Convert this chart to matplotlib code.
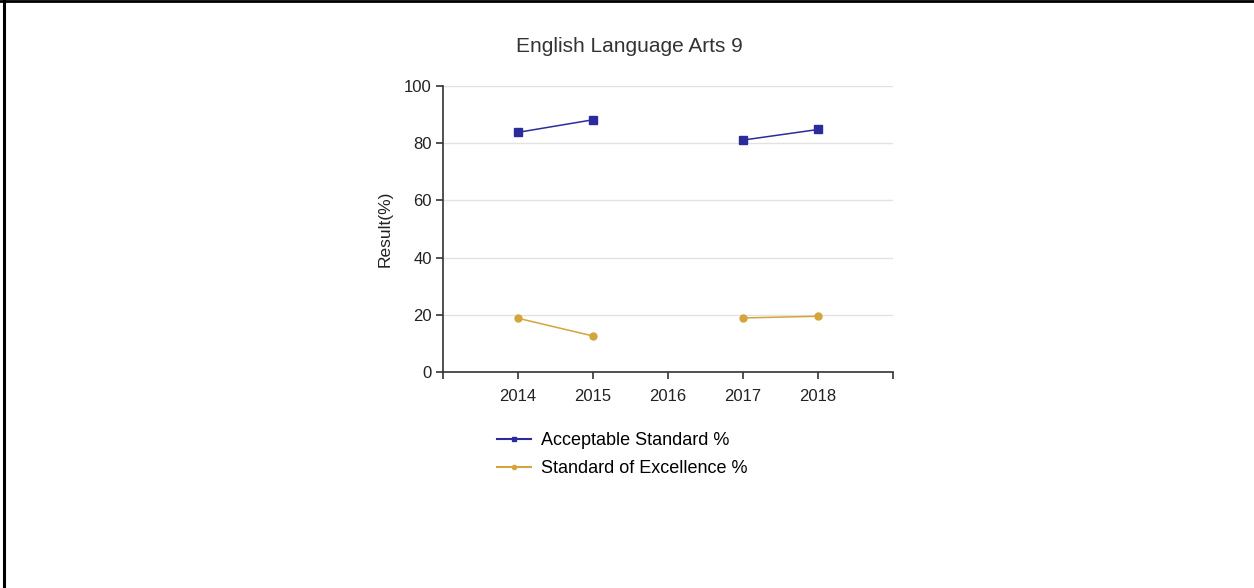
import numpy as np
import matplotlib.pyplot as plt
from matplotlib.lines import Line2D

plt.rcParams['font.family'] = ['Liberation Sans', 'DejaVu Sans']

# Results by year (2016 has no data)
years = [2014, 2015, 2016, 2017, 2018]
acceptable = [83.8, 88.2, np.nan, 81.1, 84.8]
excellence = [18.8, 12.6, np.nan, 18.9, 19.5]
y_ticks = [0, 20, 40, 60, 80, 100]

blue = '#2b2b9c'
gold = '#d3a53a'

fig = plt.figure(figsize=(12.54, 5.88), dpi=100)
ax = fig.add_axes([0.3533, 0.3673, 0.3588, 0.4864])

ax.plot(years, acceptable, color=blue, linewidth=1.1, marker='s', markersize=6,
        label='Acceptable Standard %')
ax.plot(years, excellence, color=gold, linewidth=1.1, marker='o', markersize=5,
        label='Standard of Excellence %')

ax.set_xlim(2013, 2019)
ax.set_ylim(0, 100)
ax.set_xticks([2013] + years + [2019])
ax.set_xticklabels([''] + [str(y) for y in years] + [''])
ax.set_yticks(y_ticks)
ax.yaxis.grid(True, color='#e2e2e2', linewidth=1)
ax.set_axisbelow(True)

for side in ['top', 'right']:
    ax.spines[side].set_visible(False)
for side in ['left', 'bottom']:
    ax.spines[side].set_color('#333333')
    ax.spines[side].set_linewidth(1.2)
ax.tick_params(axis='both', colors='#333333', labelcolor='#222222', labelsize=12,
               length=5, width=1.2, direction='out')
ax.tick_params(axis='x', pad=7)
ax.tick_params(axis='y', pad=3)

ax.set_ylabel('Result(%)', fontsize=12.5, color='#222222', labelpad=8)
fig.text(0.502, 0.921, 'English Language Arts 9', ha='center', va='center',
         fontsize=15, color='#333333')

handles = [Line2D([], [], color=blue, linewidth=1.5, marker='s', markersize=3),
           Line2D([], [], color=gold, linewidth=1.5, marker='o', markersize=3)]
fig.legend(handles, ['Acceptable Standard %', 'Standard of Excellence %'],
           loc='upper left', bbox_to_anchor=(0.3963, 0.265), frameon=False,
           fontsize=13, handlelength=1.9, handletextpad=0.55, labelspacing=0.6,
           borderaxespad=0, borderpad=0)

# frame edges along the top and left
fig.add_artist(Line2D([0, 1], [0.998, 0.998], transform=fig.transFigure,
                      color='black', linewidth=2))
fig.add_artist(Line2D([0.0032, 0.0032], [0, 1], transform=fig.transFigure,
                      color='black', linewidth=2.2))

fig.savefig('out.png', dpi=100)
